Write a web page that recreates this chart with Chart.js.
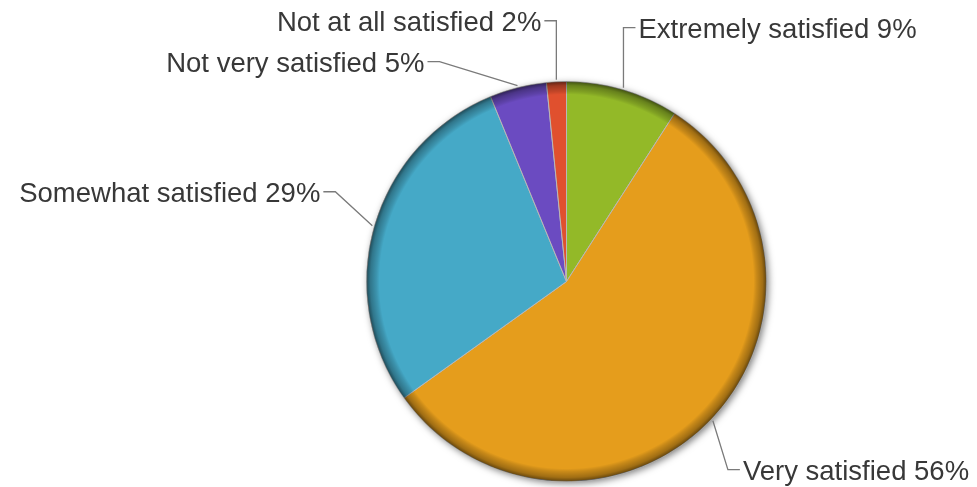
<!DOCTYPE html>
<html>
<head>
<meta charset="utf-8">
<script src="https://cdn.jsdelivr.net/npm/chart.js@4"></script>
<style>
  html, body { margin: 0; padding: 0; background: #fff; }
  #wrap { width: 977px; height: 487px; }
</style>
</head>
<body>
<div id="wrap"><canvas id="myChart" width="977" height="487"></canvas></div>
<script>
// данные опроса
const categories = ['Extremely satisfied', 'Very satisfied', 'Somewhat satisfied', 'Not very satisfied', 'Not at all satisfied'];
const shares = [9.1, 56.0, 28.7, 4.6, 1.6];
const percentLabels = ['9%', '56%', '29%', '5%', '2%'];
const sliceColors = ['#93b928', '#e59d1c', '#45a9c7', '#6b4bc1', '#e0502e'];

// куда уводить подписи от середины дуги (излом выноски)
const labelOffsets = [[0, -60], [15, 49], [-37, -34], [-78, -24], [0, -59]];

// тень под кругом и тёмный ободок
const bevelPlugin = {
    id: 'bevel',
    beforeDatasetsDraw(chart) {
        const arc = chart.getDatasetMeta(0).data[0];
        if (!arc) return;
        const ctx = chart.ctx;
        ctx.save();
        ctx.shadowColor = 'rgba(0,0,0,0.5)';
        ctx.shadowBlur = 7;
        ctx.shadowOffsetX = 2;
        ctx.shadowOffsetY = 2;
        ctx.fillStyle = '#fff';
        ctx.beginPath();
        ctx.arc(arc.x, arc.y, arc.outerRadius, 0, Math.PI * 2);
        ctx.fill();
        ctx.restore();
    },
    afterDatasetsDraw(chart) {
        const arc = chart.getDatasetMeta(0).data[0];
        if (!arc) return;
        const ctx = chart.ctx;
        const r = arc.outerRadius;
        const g = ctx.createRadialGradient(arc.x, arc.y, 0, arc.x, arc.y, r);
        g.addColorStop(0, 'rgba(0,0,0,0)');
        g.addColorStop((r - 13) / r, 'rgba(0,0,0,0)');
        g.addColorStop((r - 10) / r, 'rgba(0,0,0,0.12)');
        g.addColorStop((r - 4) / r, 'rgba(0,0,0,0.3)');
        g.addColorStop((r - 1) / r, 'rgba(0,0,0,0.5)');
        g.addColorStop(1, 'rgba(0,0,0,0.45)');
        ctx.save();
        ctx.fillStyle = g;
        ctx.beginPath();
        ctx.arc(arc.x, arc.y, r, 0, Math.PI * 2);
        ctx.fill();
        ctx.restore();
    }
};

// подписи с выносками
const outLabelsPlugin = {
    id: 'outLabels',
    afterDraw(chart) {
        const ctx = chart.ctx;
        const meta = chart.getDatasetMeta(0);
        ctx.save();
        ctx.font = '27.5px "Liberation Sans", Arial, sans-serif';
        ctx.textBaseline = 'alphabetic';
        meta.data.forEach((arc, i) => {
            const mid = (arc.startAngle + arc.endAngle) / 2;
            const ax = arc.x + Math.cos(mid) * (arc.outerRadius + 2);
            const ay = arc.y + Math.sin(mid) * (arc.outerRadius + 2);
            const ex = ax + labelOffsets[i][0];
            const ey = ay + labelOffsets[i][1];
            const right = Math.cos(mid) >= 0;
            const tx = ex + (right ? 12 : -12);

            ctx.strokeStyle = '#7a7a7a';
            ctx.lineWidth = 1.3;
            ctx.beginPath();
            ctx.moveTo(ax, ay);
            ctx.lineTo(ex, ey);
            ctx.lineTo(tx, ey);
            ctx.stroke();

            ctx.fillStyle = '#383838';
            ctx.textAlign = right ? 'left' : 'right';
            ctx.fillText(categories[i] + ' ' + percentLabels[i], tx + (right ? 3 : -3), ey + 10);
        });
        ctx.restore();
    }
};

const ctx = document.getElementById('myChart').getContext('2d');
new Chart(ctx, {
    type: 'pie',
    data: {
        labels: categories,
        datasets: [{
            data: shares,
            backgroundColor: sliceColors,
            borderColor: '#b8b8b8',
            borderWidth: 1,
            hoverBorderWidth: 1,
            hoverOffset: 0
        }]
    },
    options: {
        responsive: false,
        animation: false,
        layout: { padding: { top: 81, bottom: 5, left: 366, right: 210 } },
        plugins: {
            legend: { display: false },
            tooltip: { enabled: false }
        }
    },
    plugins: [bevelPlugin, outLabelsPlugin]
});
</script>
</body>
</html>
